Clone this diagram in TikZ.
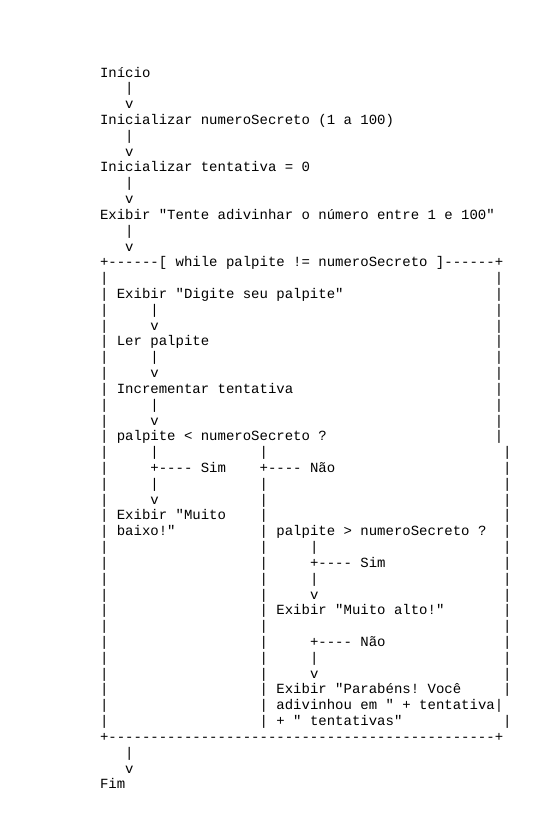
\documentclass[tikz,border=0pt]{standalone}
\usepackage{fontspec}
\setmonofont{Liberation Mono}
\tikzset{txt/.style={anchor=base west, inner sep=0pt, outer sep=0pt,
  font=\fontsize{14pt}{15.82pt}\selectfont\ttfamily, text=black}}
\newcommand\seg[3]{\node[txt] (r#1c#2) at ({100pt+#2*8.4pt},{-77pt-(#1-1)*15.82pt}) {#3};}
\begin{document}
\begin{tikzpicture}
\useasboundingbox (0,0) rectangle (560pt,-823pt);
\seg{1}{0}{Início}
\seg{2}{3}{|}
\seg{3}{3}{v}
\seg{4}{0}{Inicializar numeroSecreto (1 a 100)}
\seg{5}{3}{|}
\seg{6}{3}{v}
\seg{7}{0}{Inicializar tentativa = 0}
\seg{8}{3}{|}
\seg{9}{3}{v}
\seg{10}{0}{Exibir "Tente adivinhar o número entre 1 e 100"}
\seg{11}{3}{|}
\seg{12}{3}{v}
\seg{13}{0}{+------[ while palpite != numeroSecreto ]------+}
\seg{14}{0}{|}\seg{14}{47}{|}
\seg{15}{0}{| Exibir "Digite seu palpite"}\seg{15}{47}{|}
\seg{16}{0}{|}\seg{16}{6}{|}\seg{16}{47}{|}
\seg{17}{0}{|}\seg{17}{6}{v}\seg{17}{47}{|}
\seg{18}{0}{| Ler palpite}\seg{18}{47}{|}
\seg{19}{0}{|}\seg{19}{6}{|}\seg{19}{47}{|}
\seg{20}{0}{|}\seg{20}{6}{v}\seg{20}{47}{|}
\seg{21}{0}{| Incrementar tentativa}\seg{21}{47}{|}
\seg{22}{0}{|}\seg{22}{6}{|}\seg{22}{47}{|}
\seg{23}{0}{|}\seg{23}{6}{v}\seg{23}{47}{|}
\seg{24}{0}{| palpite < numeroSecreto ?}\seg{24}{47}{|}
\seg{25}{0}{|}\seg{25}{6}{|}\seg{25}{19}{|}\seg{25}{48}{|}
\seg{26}{0}{|}\seg{26}{6}{+---- Sim}\seg{26}{19}{+---- Não}\seg{26}{48}{|}
\seg{27}{0}{|}\seg{27}{6}{|}\seg{27}{19}{|}\seg{27}{48}{|}
\seg{28}{0}{|}\seg{28}{6}{v}\seg{28}{19}{|}\seg{28}{48}{|}
\seg{29}{0}{| Exibir "Muito}\seg{29}{19}{|}\seg{29}{48}{|}
\seg{30}{0}{| baixo!"}\seg{30}{19}{| palpite > numeroSecreto ?}\seg{30}{48}{|}
\seg{31}{0}{|}\seg{31}{19}{|}\seg{31}{25}{|}\seg{31}{48}{|}
\seg{32}{0}{|}\seg{32}{19}{|}\seg{32}{25}{+---- Sim}\seg{32}{48}{|}
\seg{33}{0}{|}\seg{33}{19}{|}\seg{33}{25}{|}\seg{33}{48}{|}
\seg{34}{0}{|}\seg{34}{19}{|}\seg{34}{25}{v}\seg{34}{48}{|}
\seg{35}{0}{|}\seg{35}{19}{| Exibir "Muito alto!"}\seg{35}{48}{|}
\seg{36}{0}{|}\seg{36}{19}{|}\seg{36}{48}{|}
\seg{37}{0}{|}\seg{37}{19}{|}\seg{37}{25}{+---- Não}\seg{37}{48}{|}
\seg{38}{0}{|}\seg{38}{19}{|}\seg{38}{25}{|}\seg{38}{48}{|}
\seg{39}{0}{|}\seg{39}{19}{|}\seg{39}{25}{v}\seg{39}{48}{|}
\seg{40}{0}{|}\seg{40}{19}{| Exibir "Parabéns! Você}\seg{40}{48}{|}
\seg{41}{0}{|}\seg{41}{19}{| adivinhou em " + tentativa}\seg{41}{47}{|}
\seg{42}{0}{|}\seg{42}{19}{| + " tentativas"}\seg{42}{48}{|}
\seg{43}{0}{+----------------------------------------------+}
\seg{44}{3}{|}
\seg{45}{3}{v}
\seg{46}{0}{Fim}
\end{tikzpicture}
\end{document}
